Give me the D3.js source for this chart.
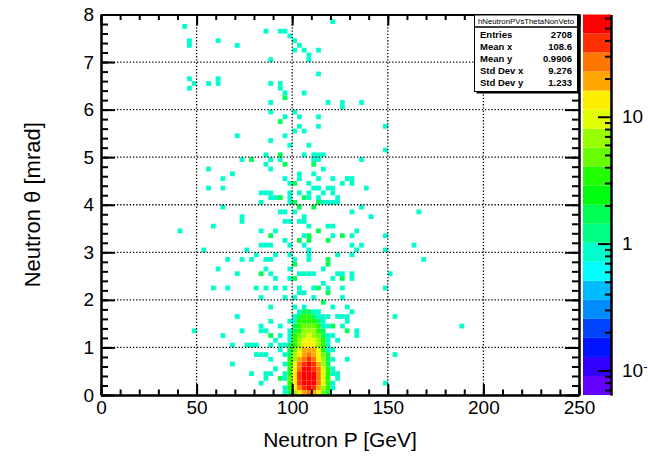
<!DOCTYPE html>
<html>
<head>
<meta charset="utf-8">
<script src="https://cdn.jsdelivr.net/npm/d3@7"></script>
<style>
  body { margin: 0; background: #fff; }
  text { font-family: "Liberation Sans", Arial, Helvetica, sans-serif; }
</style>
</head>
<body>
<svg id="chart" width="648" height="458"></svg>
<script>
// hNeutronPVsThetaNonVeto : 2D histogram, 100 x 80 bins, COLZ with log z

var pBinWidth = 2.5
var thetaBinWidth = 0.1

// dense core, columns = P bins, rows = theta bins
var coreP = [95, 97.5, 100, 102.5, 105, 107.5, 110, 112.5, 115, 117.5, 120, 122.5]
var coreTheta = [0, 0.1, 0.2, 0.3, 0.4, 0.5, 0.6, 0.7, 0.8, 0.9, 1.0, 1.1, 1.2, 1.3, 1.4, 1.5, 1.6, 1.7]
var coreCounts = [
    [1, 2, 6, 14, 22, 25, 20, 12, 5, 2, 0, 0],
    [1, 3, 12, 30, 45, 50, 40, 20, 8, 3, 1, 0],
    [0, 4, 15, 35, 55, 64, 50, 25, 10, 3, 1, 0],
    [1, 5, 16, 38, 56, 62, 52, 28, 11, 4, 0, 1],
    [1, 4, 14, 34, 50, 58, 48, 26, 10, 3, 1, 0],
    [0, 4, 12, 30, 46, 52, 44, 24, 9, 3, 1, 0],
    [1, 3, 10, 24, 38, 46, 38, 20, 8, 2, 0, 0],
    [0, 3, 8, 18, 30, 34, 30, 16, 6, 2, 1, 0],
    [1, 2, 6, 13, 22, 26, 22, 12, 5, 2, 0, 0],
    [0, 2, 5, 10, 18, 20, 17, 10, 4, 1, 1, 0],
    [1, 2, 4, 8, 13, 15, 13, 8, 3, 1, 0, 0],
    [0, 1, 3, 6, 10, 12, 10, 6, 3, 1, 0, 1],
    [0, 1, 3, 5, 8, 9, 8, 5, 2, 1, 1, 0],
    [0, 1, 2, 4, 6, 7, 6, 4, 2, 0, 0, 0],
    [0, 0, 2, 3, 5, 5, 5, 3, 1, 1, 0, 0],
    [0, 0, 1, 3, 4, 4, 3, 2, 1, 0, 0, 0],
    [0, 0, 1, 2, 3, 3, 2, 1, 1, 0, 0, 0],
    [0, 0, 0, 1, 2, 2, 1, 1, 0, 0, 0, 0]
]

// scattered bins: [P lower edge, theta lower edge, entries]
var sparseCells = [
    [42.5, 7.7, 1], [45, 7.4, 1], [60, 7.4, 1], [45, 7.3, 1], [70, 7.3, 1], [45, 6.6, 1], [47.5, 6.5, 1],
    [45, 6.4, 1], [55, 6.5, 1], [60, 6.6, 1], [60, 6.5, 1], [70, 5.4, 1], [72.5, 4.9, 1], [77.5, 4.9, 2],
    [55, 4.7, 1], [67.5, 4.6, 1], [62.5, 4.5, 1], [55, 4.3, 1], [62.5, 4.3, 1], [82.5, 4.2, 1], [82.5, 4.0, 1],
    [62.5, 3.9, 1], [72.5, 3.7, 1], [72.5, 3.6, 1], [57.5, 3.5, 1], [40, 3.4, 1], [82.5, 3.1, 1], [75, 3.0, 1],
    [52.5, 3.0, 1], [80, 2.9, 1], [65, 2.8, 1], [72.5, 2.8, 1], [77.5, 2.8, 1], [60, 2.6, 1], [70, 2.5, 1],
    [82.5, 2.5, 2], [57.5, 2.2, 1], [65, 2.2, 1], [80, 2.2, 1], [82.5, 2.0, 1], [70, 1.6, 1], [82.5, 1.4, 1],
    [47.5, 1.3, 1], [62.5, 1.2, 1], [72.5, 1.3, 1], [82.5, 1.3, 1], [75, 1.0, 1], [77.5, 1.0, 1], [67.5, 1.0, 1],
    [80, 0.8, 1], [67.5, 0.6, 1], [77.5, 0.4, 1], [82.5, 0.2, 1],
    [135, 6.1, 1], [147.5, 5.6, 1], [147.5, 5.1, 1], [135, 4.9, 1], [137.5, 4.3, 1], [135, 3.9, 1], [140, 3.7, 1],
    [165, 3.8, 1], [147.5, 3.3, 1], [135, 3.1, 1], [147.5, 3.0, 1], [162.5, 3.1, 1], [167.5, 2.8, 1], [150, 2.5, 1],
    [147.5, 2.2, 1], [152.5, 1.6, 1], [187.5, 1.4, 1], [152.5, 0.8, 1], [147.5, 0.2, 1],
    [85, 7.6, 1], [92.5, 7.6, 1], [95, 7.6, 1], [97.5, 7.5, 1], [100, 7.4, 1], [102.5, 7.3, 1], [105, 7.2, 1],
    [107.5, 7.1, 1], [107.5, 7.0, 1], [100, 7.2, 1], [112.5, 7.2, 1], [87.5, 7.0, 1], [120, 7.8, 1], [112.5, 6.7, 1],
    [87.5, 6.5, 1], [92.5, 6.5, 1], [92.5, 6.4, 1], [105, 6.3, 1], [95, 6.3, 1], [95, 6.2, 2], [117.5, 6.1, 1],
    [125, 6.1, 1], [125, 6.0, 1], [87.5, 6.1, 1], [87.5, 5.9, 1], [100, 5.9, 1], [95, 5.8, 1], [102.5, 5.8, 1],
    [112.5, 5.8, 1], [92.5, 5.7, 2], [102.5, 5.6, 1], [112.5, 5.6, 1], [100, 5.5, 1], [105, 5.5, 1], [95, 5.4, 1],
    [87.5, 5.3, 1],
    [97.5, 5.2, 1], [107.5, 5.2, 1], [85, 5.0, 1], [92.5, 5.0, 2], [105, 5.0, 1], [110, 5.0, 1], [112.5, 5.0, 1],
    [115, 5.0, 1], [87.5, 4.9, 1], [92.5, 4.9, 1], [110, 4.9, 1], [112.5, 4.9, 1], [110, 4.8, 2], [85, 4.8, 1],
    [95, 4.8, 2], [87.5, 4.7, 1], [115, 4.7, 1], [102.5, 4.6, 1], [102.5, 4.5, 1], [110, 4.6, 1], [112.5, 4.5, 1],
    [120, 4.5, 1], [127.5, 4.5, 1], [130, 4.5, 1], [125, 4.4, 1], [130, 4.4, 1], [97.5, 4.4, 1], [100, 4.4, 2],
    [107.5, 4.4, 1], [95, 4.5, 1], [110, 4.3, 1], [112.5, 4.3, 1], [120, 4.3, 1], [117.5, 4.3, 1], [85, 4.2, 1],
    [97.5, 4.2, 1], [107.5, 4.2, 1], [115, 4.2, 1], [120, 4.2, 1], [87.5, 4.2, 1], [102.5, 4.2, 1], [92.5, 4.1, 2],
    [105, 4.1, 2], [107.5, 4.1, 1], [90, 4.1, 1], [97.5, 4.1, 1], [122.5, 4.1, 1], [112.5, 4.1, 1], [87.5, 4.1, 1],
    [97.5, 4.0, 1], [100, 4.0, 2], [102.5, 3.9, 2], [112.5, 4.0, 2], [115, 4.0, 1], [117.5, 4.0, 1], [120, 4.0, 1],
    [122.5, 4.0, 1], [110, 3.9, 2], [100, 3.8, 1], [130, 3.8, 1], [92.5, 3.8, 1], [95, 3.8, 1], [95, 3.6, 1],
    [97.5, 3.6, 1], [102.5, 3.6, 1], [105, 3.6, 1], [105, 3.7, 1], [107.5, 3.5, 1], [117.5, 3.5, 1], [120, 3.5, 1],
    [82.5, 3.4, 1], [87.5, 3.3, 2], [90, 3.4, 1], [107.5, 3.3, 2], [112.5, 3.4, 2], [125, 3.3, 2], [132.5, 3.4, 1],
    [130, 3.3, 1], [95, 3.2, 1], [102.5, 3.2, 2], [107.5, 3.2, 2], [105, 3.3, 1], [117.5, 3.2, 2], [120, 3.3, 1],
    [85, 3.1, 1], [87.5, 3.1, 1], [97.5, 3.1, 1], [105, 3.1, 1], [130, 3.1, 1], [132.5, 3.0, 1], [107.5, 3.0, 1],
    [90, 2.9, 1], [97.5, 2.9, 1], [107.5, 2.9, 1], [122.5, 2.9, 1], [130, 2.9, 1], [85, 2.8, 1], [87.5, 2.8, 1],
    [100, 2.8, 1], [107.5, 2.8, 1], [117.5, 2.8, 2], [100, 2.7, 2], [117.5, 2.7, 2], [85, 2.6, 1],
    [97.5, 2.6, 1], [87.5, 2.5, 1], [102.5, 2.5, 1], [105, 2.5, 1], [107.5, 2.5, 1], [110, 2.5, 1], [115, 2.6, 1],
    [122.5, 2.5, 1], [125, 2.5, 1], [130, 2.5, 1], [120, 2.4, 1], [125, 2.4, 2], [130, 2.4, 1], [90, 2.4, 1],
    [97.5, 2.4, 1], [100, 2.4, 2], [115, 2.3, 1], [85, 2.2, 1], [90, 2.2, 1], [95, 2.2, 1], [102.5, 2.2, 1],
    [105, 2.1, 1], [110, 2.2, 1], [112.5, 2.2, 2], [117.5, 2.2, 1], [125, 2.2, 1], [117.5, 2.1, 2], [102.5, 2.1, 1],
    [95, 2.0, 1], [100, 2.0, 1], [110, 2.0, 1], [125, 2.0, 1], [115, 1.9, 2], [87.5, 1.8, 1], [100, 1.8, 1],
    [105, 1.8, 1], [120, 1.8, 1], [127.5, 1.8, 1], [130, 1.7, 1], [117.5, 1.6, 1], [125, 1.6, 1], [122.5, 1.6, 1],
    [127.5, 1.6, 1], [87.5, 1.5, 1], [92.5, 1.4, 1], [97.5, 1.5, 1], [127.5, 1.5, 1], [120, 1.4, 2], [125, 1.4, 1],
    [132.5, 1.3, 1], [127.5, 1.3, 2], [85, 1.3, 1], [87.5, 1.2, 2], [92.5, 1.2, 1], [132.5, 1.2, 1],
    [90, 1.1, 1], [80, 1.0, 1], [87.5, 1.0, 1], [92.5, 1.0, 1], [85, 0.8, 1], [82.5, 0.8, 1], [92.5, 0.9, 1],
    [87.5, 0.7, 1], [90, 0.5, 1], [85, 0.4, 1], [87.5, 0.4, 1], [92.5, 0.3, 2], [85, 0.3, 1], [127.5, 0.7, 1],
    [122.5, 0.4, 1]
]

var xTicksMajor = [0, 50, 100, 150, 200, 250]
var yTicksMajor = [0, 1, 2, 3, 4, 5, 6, 7, 8]
var zTicksMajor = [0.1, 1, 10]
var zDomain = [0.064, 64]
var nContours = 20

var statNames = ["Entries", "Mean x", "Mean y", "Std Dev x", "Std Dev y"]
var statValues = ["2708", "108.6", "0.9906", "9.276", "1.233"]
var histName = "hNeutronPVsThetaNonVeto"

var margin = { top: 14.5, left: 101, bottom: 63, right: 69 }
var svgWidth = 648
var svgHeight = 458
var width = svgWidth - margin.left - margin.right
var height = svgHeight - margin.top - margin.bottom

const svg = d3.select("#chart")

const X_scale = d3.scaleLinear().domain([0, 250]).range([0, width])
const Y_scale = d3.scaleLinear().domain([0, 8]).range([height, 0])
const Z_scale = d3.scaleLog().domain(zDomain).range([height, 0])

// old ROOT "pretty palette": 50 colours, hue 280 -> 0, 20 contours
function contourColor(k) {
    var idx = Math.floor((k + 0.99) * 50 / nContours)
    return d3.hsl(280 - (idx + 1) * 5.6, 1, 0.5).formatHex()
}
function contourOf(n) {
    var lz = Math.log10(n), l0 = Math.log10(zDomain[0]), l1 = Math.log10(zDomain[1])
    var k = Math.floor(nContours * (lz - l0) / (l1 - l0))
    return Math.max(0, Math.min(nContours - 1, k))
}

// collect bins
var cellMap = new Map()
function key(p, t) { return Math.round(p / pBinWidth) + "," + Math.round(t / thetaBinWidth) }
sparseCells.forEach(function (c) { cellMap.set(key(c[0], c[1]), { p: c[0], t: c[1], n: c[2] }) })
coreCounts.forEach(function (row, j) {
    row.forEach(function (n, i) {
        if (n > 0) cellMap.set(key(coreP[i], coreTheta[j]), { p: coreP[i], t: coreTheta[j], n: n })
    })
})
var cells = Array.from(cellMap.values())

const plot = svg.append("g")
    .attr("transform", `translate(${margin.left},${margin.top})`)

plot.selectAll("rect.bin")
    .data(cells)
    .join("rect")
    .attr("class", "bin")
    .attr("x", d => X_scale(d.p))
    .attr("y", d => Y_scale(d.t + thetaBinWidth))
    .attr("width", d => X_scale(d.p + pBinWidth) - X_scale(d.p))
    .attr("height", d => Y_scale(d.t) - Y_scale(d.t + thetaBinWidth))
    .attr("fill", d => contourColor(contourOf(d.n)))

// dotted grid
const grid = plot.append("g").attr("stroke", "#000").attr("stroke-width", 1.3).attr("stroke-dasharray", "1.3,1.9")
grid.selectAll("line.gx")
    .data(xTicksMajor.slice(1, -1))
    .join("line")
    .attr("x1", d => X_scale(d)).attr("x2", d => X_scale(d))
    .attr("y1", 0).attr("y2", height)
grid.selectAll("line.gy")
    .data(yTicksMajor.slice(1, -1))
    .join("line").attr("class", "gy")
    .attr("x1", 0).attr("x2", width)
    .attr("y1", d => Y_scale(d)).attr("y2", d => Y_scale(d))

// axes, ticks pointing inwards on all four sides
var xMinor = d3.range(0, 251, 10)
var yMinor = d3.range(0, 8.01, 0.2)

function styleAxis(g) {
    g.select(".domain").attr("stroke-width", 2)
    g.selectAll(".tick line").attr("stroke-width", 2)
    g.selectAll("text").attr("font-size", 19).attr("fill", "#000")
}

plot.append("g").attr("transform", `translate(0,${height})`)
    .call(d3.axisBottom(X_scale).tickValues(xMinor).tickFormat("").tickSizeInner(-5.5).tickSizeOuter(0))
    .call(styleAxis)
plot.append("g").attr("transform", `translate(0,${height})`)
    .call(d3.axisBottom(X_scale).tickValues(xTicksMajor).tickFormat(d3.format("d")).tickSizeInner(-11).tickSizeOuter(0).tickPadding(6))
    .call(styleAxis)
plot.append("g")
    .call(d3.axisTop(X_scale).tickValues(xMinor).tickFormat("").tickSizeInner(-5.5).tickSizeOuter(0))
    .call(styleAxis)
plot.append("g")
    .call(d3.axisTop(X_scale).tickValues(xTicksMajor).tickFormat("").tickSizeInner(-11).tickSizeOuter(0))
    .call(styleAxis)

plot.append("g")
    .call(d3.axisLeft(Y_scale).tickValues(yMinor).tickFormat("").tickSizeInner(-7).tickSizeOuter(0))
    .call(styleAxis)
plot.append("g")
    .call(d3.axisLeft(Y_scale).tickValues(yTicksMajor).tickFormat(d3.format("d")).tickSizeInner(-14).tickSizeOuter(0).tickPadding(7))
    .call(styleAxis)
plot.append("g").attr("transform", `translate(${width},0)`)
    .call(d3.axisRight(Y_scale).tickValues(yMinor).tickFormat("").tickSizeInner(-7).tickSizeOuter(0))
    .call(styleAxis)
plot.append("g").attr("transform", `translate(${width},0)`)
    .call(d3.axisRight(Y_scale).tickValues(yTicksMajor).tickFormat("").tickSizeInner(-14).tickSizeOuter(0))
    .call(styleAxis)

// axis titles
svg.append("text")
    .attr("x", margin.left + width / 2)
    .attr("y", 447)
    .attr("text-anchor", "middle")
    .attr("font-size", 21)
    .text("Neutron P [GeV]")
svg.append("text")
    .attr("transform", `translate(40,${margin.top + height / 2}) rotate(-90)`)
    .attr("text-anchor", "middle")
    .attr("font-size", 22)
    .text("Neutron θ [mrad]")

// stats box
const stats = svg.append("g")
stats.append("rect").attr("x", 476.5).attr("y", 17).attr("width", 103).attr("height", 76.5).attr("fill", "#000")
stats.append("rect").attr("x", 474.5).attr("y", 15).attr("width", 103).attr("height", 76.5)
    .attr("fill", "#fff").attr("stroke", "#000").attr("stroke-width", 1)
stats.append("line").attr("x1", 474.5).attr("x2", 577.5).attr("y1", 27).attr("y2", 27)
    .attr("stroke", "#000").attr("stroke-width", 1.5)
stats.append("text")
    .attr("x", 526).attr("y", 24)
    .attr("text-anchor", "middle")
    .attr("font-size", 7.5)
    .attr("textLength", 96)
    .attr("lengthAdjust", "spacingAndGlyphs")
    .text(histName)
stats.selectAll("text.sname")
    .data(statNames)
    .join("text").attr("class", "sname")
    .attr("x", 480)
    .attr("y", (d, i) => 37.8 + i * 12.1)
    .attr("font-size", 9.5).attr("font-weight", "bold")
    .text(d => d)
stats.selectAll("text.sval")
    .data(statValues)
    .join("text").attr("class", "sval")
    .attr("x", 572)
    .attr("y", (d, i) => 37.8 + i * 12.1)
    .attr("text-anchor", "end")
    .attr("font-size", 9.5).attr("font-weight", "bold")
    .text(d => d)

// colour palette
var barX = 583, barW = 28
const bar = svg.append("g").attr("transform", `translate(0,${margin.top})`)
var lz0 = Math.log10(zDomain[0]), lz1 = Math.log10(zDomain[1])
var step = (lz1 - lz0) / nContours
bar.selectAll("rect")
    .data(d3.range(nContours))
    .join("rect")
    .attr("x", barX)
    .attr("width", barW)
    .attr("y", k => Z_scale(Math.pow(10, lz0 + (k + 1) * step)))
    .attr("height", k => Z_scale(Math.pow(10, lz0 + k * step)) - Z_scale(Math.pow(10, lz0 + (k + 1) * step)))
    .attr("fill", k => contourColor(k))

var zMinor = []
;[0.01, 0.1, 1, 10].forEach(function (dec) {
    d3.range(2, 10).forEach(function (m) {
        var v = m * dec
        if (v > zDomain[0] && v < zDomain[1]) zMinor.push(v)
    })
})
bar.append("g").attr("transform", `translate(${barX + barW},0)`)
    .call(d3.axisRight(Z_scale).tickValues(zMinor).tickFormat("").tickSizeInner(-6).tickSizeOuter(0))
    .call(styleAxis)
const zAxis = bar.append("g").attr("transform", `translate(${barX + barW},0)`)
    .call(d3.axisRight(Z_scale).tickValues(zTicksMajor).tickFormat(d => d >= 1 ? d3.format("d")(d) : "10").tickSizeInner(-13).tickSizeOuter(0).tickPadding(11))
    .call(styleAxis)
zAxis.selectAll(".tick text")
    .filter(d => d < 1)
    .append("tspan")
    .attr("dy", "-0.5em")
    .attr("font-size", 13)
    .text("-1")
</script>
</body>
</html>
